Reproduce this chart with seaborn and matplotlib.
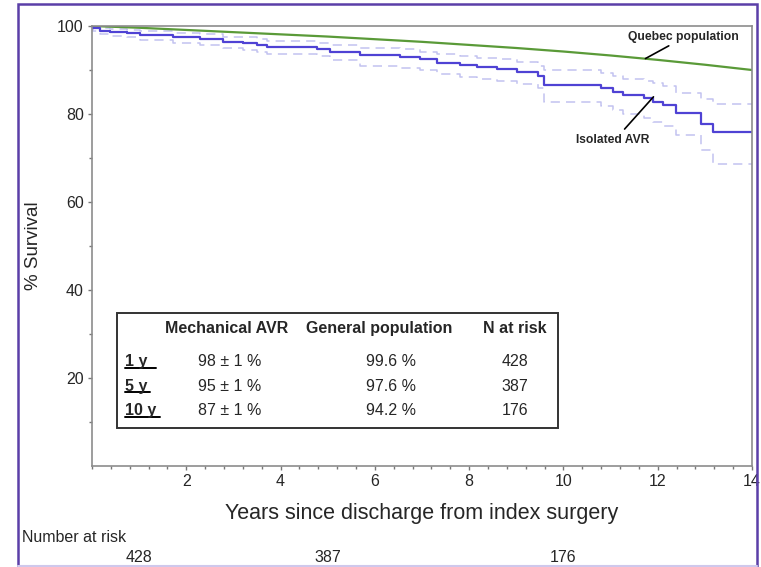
import pandas as pd
import seaborn as sns
import matplotlib.pyplot as plt
import matplotlib.transforms as mtransforms
from matplotlib.patches import Rectangle
from matplotlib.lines import Line2D
from matplotlib.ticker import MultipleLocator, FixedLocator

# Kaplan-Meier survival after isolated mechanical AVR
km_years = [0.00, 0.02, 0.17, 0.38, 0.74, 1.02, 1.72, 2.29, 2.78, 3.21, 3.50, 3.72,
            4.78, 5.05, 5.69, 6.54, 6.96, 7.32, 7.81, 8.17, 8.60, 9.02, 9.45, 9.58,
            10.79, 11.06, 11.27, 11.70, 11.91, 12.12, 12.38, 12.91, 13.18, 14.00]
km_surv = [100.0, 99.5, 98.9, 98.6, 98.3, 97.9, 97.4, 97.1, 96.4, 96.2, 95.7, 95.3,
           94.8, 94.0, 93.4, 93.0, 92.4, 91.7, 91.1, 90.6, 90.2, 89.6, 88.6, 86.7,
           85.8, 85.1, 84.3, 83.6, 82.8, 82.0, 80.2, 77.7, 76.0, 76.0]
km_upper = [100.0, 100.0, 99.6, 99.3, 99.1, 98.8, 98.4, 98.2, 97.6, 97.4, 97.0, 96.6,
            96.2, 95.6, 95.0, 94.7, 94.2, 93.6, 93.1, 92.7, 92.4, 91.8, 91.0, 90.0,
            89.4, 88.6, 88.0, 87.4, 87.0, 86.4, 84.8, 83.3, 82.3, 82.3]
km_lower = [100.0, 98.8, 98.2, 97.7, 97.4, 96.8, 96.2, 95.7, 94.9, 94.6, 94.1, 93.6,
            93.1, 92.2, 90.8, 90.4, 89.9, 89.2, 88.5, 88.0, 87.5, 86.9, 85.8, 82.8,
            81.8, 80.8, 80.0, 79.2, 78.2, 77.2, 75.2, 71.8, 68.6, 68.6]

# expected survival of the age/sex matched Quebec population
pop_years = [0, 1, 2, 3, 4, 5, 6, 7, 8, 9, 10, 11, 12, 13, 14]
pop_surv = [100.0, 99.6, 99.1, 98.6, 98.1, 97.6, 97.0, 96.4, 95.7, 95.0, 94.2,
            93.3, 92.3, 91.2, 90.0]

# inset table
table_rows = ["1 y", "5 y", "10 y"]
table_avr = ["98 \u00b1 1 %", "95 \u00b1 1 %", "87 \u00b1 1 %"]
table_pop = ["99.6 %", "97.6 %", "94.2 %"]
table_risk = ["428", "387", "176"]

# number at risk under the x axis
risk_years = [1, 5, 10]
risk_counts = [428, 387, 176]

sns.set_style("white")
plt.rcParams['font.family'] = ['Liberation Sans', 'DejaVu Sans']

fig = plt.figure(figsize=(7.61, 5.67), dpi=100)
ax = fig.add_axes([92 / 761, 101 / 567, 660 / 761, 440 / 567])

km_df = pd.DataFrame({'years': km_years, 'surv': km_surv,
                      'upper': km_upper, 'lower': km_lower})
pop_df = pd.DataFrame({'years': pop_years, 'surv': pop_surv})

ci_color = '#c2c2f0'
for col in ['upper', 'lower']:
    sns.lineplot(data=km_df, x='years', y=col, ax=ax, color=ci_color, lw=1.1,
                 drawstyle='steps-post', linestyle=(0, (6, 4)), errorbar=None)
sns.lineplot(data=pop_df, x='years', y='surv', ax=ax, color='#5a9a38', lw=1.6,
             errorbar=None)
sns.lineplot(data=km_df, x='years', y='surv', ax=ax, color='#4f42d4', lw=1.6,
             drawstyle='steps-post', errorbar=None)

ax.set_xlim(0, 14)
ax.set_ylim(0, 100)
ax.xaxis.set_major_locator(FixedLocator([2, 4, 6, 8, 10, 12, 14]))
ax.xaxis.set_minor_locator(MultipleLocator(0.4))
ax.yaxis.set_major_locator(FixedLocator([20, 40, 60, 80, 100]))
ax.yaxis.set_minor_locator(FixedLocator([10, 30, 50, 70, 90]))
ax.tick_params(which='major', direction='out', length=3, width=1, color='#777777',
               labelsize=11.5, pad=3, bottom=True, left=True)
ax.tick_params(which='minor', direction='out', length=2, width=1, color='#777777',
               bottom=True, left=True)
for sp in ax.spines.values():
    sp.set_color('#8c8c8c')
    sp.set_linewidth(1.2)

ax.set_xlabel('Years since discharge from index surgery', fontsize=15.5, labelpad=10)
ax.set_ylabel('% Survival', fontsize=13.5, labelpad=11)

# curve labels
ax.annotate('Quebec population', xy=(11.74, 92.6), xytext=(12.55, 97.6),
            ha='center', va='center', fontsize=8.7, fontweight='bold',
            arrowprops=dict(arrowstyle='-', color='black', lw=1.2,
                            relpos=(0.42, 0.0), shrinkA=0, shrinkB=0))
ax.annotate('Isolated AVR', xy=(11.91, 83.9), xytext=(11.04, 74.0),
            ha='center', va='center', fontsize=8.7, fontweight='bold',
            arrowprops=dict(arrowstyle='-', color='black', lw=1.2,
                            relpos=(0.6, 1.0), shrinkA=2, shrinkB=0))

# inset table
ax.add_patch(Rectangle((0.0379, 0.0864), 0.6682, 0.2613, transform=ax.transAxes,
                       fill=False, ec='#333333', lw=1.4, zorder=5))
hdr_y = 0.3015
row_y = [0.2273, 0.1711, 0.1159]
tkw = dict(transform=ax.transAxes, fontsize=11.5, va='baseline')
ax.text(0.2045, hdr_y, 'Mechanical AVR', ha='center', fontweight='bold', **tkw)
ax.text(0.435, hdr_y, 'General population', ha='center', fontweight='bold', **tkw)
ax.text(0.641, hdr_y, 'N at risk', ha='center', fontweight='bold', **tkw)
ul_end = [0.097, 0.088, 0.103]
for i, yy in enumerate(row_y):
    ax.text(0.05, yy, table_rows[i], ha='left', fontweight='bold', **tkw)
    ax.add_line(Line2D([0.05, ul_end[i]], [yy - 0.004, yy - 0.004],
                       transform=ax.transAxes, color='black', lw=1.4))
    ax.text(0.209, yy, table_avr[i], ha='center', **tkw)
    ax.text(0.453, yy, table_pop[i], ha='center', **tkw)
    ax.text(0.641, yy, table_risk[i], ha='center', **tkw)

# number at risk row
fig.text(22 / 761, 30 / 567, 'Number at risk', fontsize=11.5, va='center', ha='left')
trans = mtransforms.blended_transform_factory(ax.transData, fig.transFigure)
for yr, n in zip(risk_years, risk_counts):
    ax.text(yr, 9 / 567, str(n), transform=trans, ha='center', va='center',
            fontsize=11.5, clip_on=False)

# purple frame around the whole panel
fig.patches.append(Rectangle((18 / 761, -0.02), 739 / 761, 563 / 567 + 0.02,
                             transform=fig.transFigure, fill=False,
                             ec='#5b3fa8', lw=1.8))
fig.lines.append(Line2D([18 / 761, 757 / 761], [0.002, 0.002],
                        transform=fig.transFigure, color='#cfc8ec', lw=1.5))

fig.savefig('out.png', dpi=100)
